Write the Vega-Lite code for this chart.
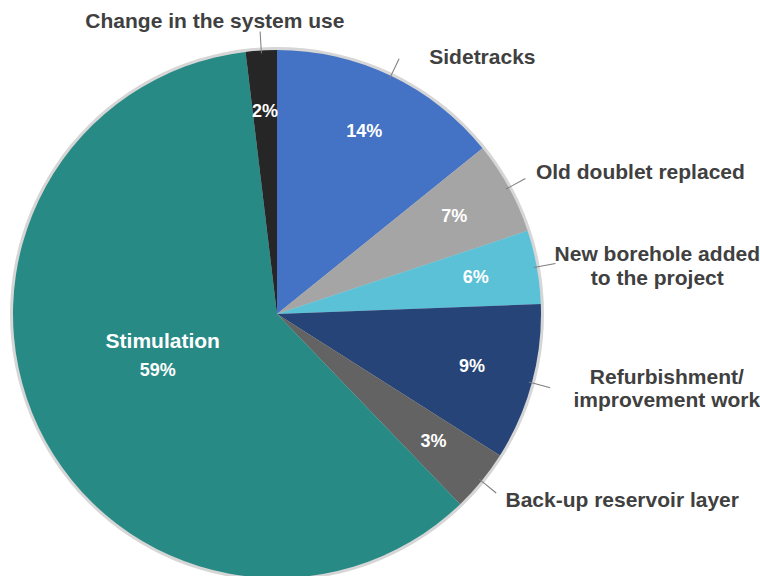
{
  "$schema": "https://vega.github.io/schema/vega-lite/v6.json",
  "width": 554,
  "height": 524,
  "autosize": "none",
  "padding": {"left": 0, "top": 52, "right": 206, "bottom": 0},
  "background": "#ffffff",
  "view": {"stroke": null},
  "config": {"text": {"font": "Liberation Sans", "fontWeight": "bold"}},
  "data": {
    "values": [
      {"order": 1, "name": "Sidetracks", "value": 14.2, "pct": "14%", "label": "Sidetracks"},
      {"order": 2, "name": "Old doublet replaced", "value": 5.7, "pct": "7%", "label": "Old doublet replaced"},
      {"order": 3, "name": "New borehole added to the project", "value": 4.5, "pct": "6%", "label": ["New borehole added", "to the project"]},
      {"order": 4, "name": "Refurbishment/ improvement work", "value": 9.6, "pct": "9%", "label": ["Refurbishment/", "improvement work"]},
      {"order": 5, "name": "Back-up reservoir layer", "value": 3.8, "pct": "3%", "label": "Back-up reservoir layer"},
      {"order": 6, "name": "Stimulation", "value": 60.3, "pct": "59%", "label": "Stimulation"},
      {"order": 7, "name": "Change in the system use", "value": 1.9, "pct": "2%", "label": "Change in the system use"}
    ]
  },
  "transform": [
    {"stack": "value", "groupby": [], "sort": [{"field": "order"}], "as": ["t0", "t1"]},
    {"calculate": "(datum.t0 + datum.t1) / 2", "as": "mid"},
    {"calculate": "datum.mid - 0.03", "as": "l0"},
    {"calculate": "datum.mid + 0.03", "as": "l1"}
  ],
  "layer": [
    {
      "data": {"values": [{}]},
      "mark": {"type": "arc", "outerRadius": 267, "fill": "#d6d6d6"},
      "encoding": {}
    },
    {
      "mark": {"type": "arc", "outerRadius": 264},
      "encoding": {
        "theta": {"field": "t0", "type": "quantitative", "scale": {"domain": [0, 100]}, "stack": null},
        "theta2": {"field": "t1"},
        "color": {
          "field": "name",
          "type": "nominal",
          "legend": null,
          "scale": {
            "domain": ["Sidetracks", "Old doublet replaced", "New borehole added to the project", "Refurbishment/ improvement work", "Back-up reservoir layer", "Stimulation", "Change in the system use"],
            "range": ["#4472C4", "#A5A5A5", "#5BC1D7", "#264478", "#636363", "#288A85", "#262626"]
          }
        }
      }
    },
    {
      "transform": [{"filter": "datum.name !== 'Stimulation'"}],
      "mark": {"type": "arc", "innerRadius": 261, "outerRadius": 283, "fill": "#7f7f7f"},
      "encoding": {
        "theta": {"field": "l0", "type": "quantitative", "scale": {"domain": [0, 100]}, "stack": null},
        "theta2": {"field": "l1"}
      }
    },
    {
      "transform": [{"filter": "datum.name !== 'Stimulation'"}],
      "mark": {"type": "text", "radius": 202, "fontSize": 18, "fill": "#ffffff", "align": "center", "baseline": "middle"},
      "encoding": {
        "theta": {"field": "mid", "type": "quantitative", "scale": {"domain": [0, 100]}, "stack": null},
        "text": {"field": "pct", "type": "nominal"}
      }
    },
    {
      "transform": [{"filter": "datum.name === 'Stimulation'"}],
      "mark": {"type": "text", "radius": 132, "fontSize": 18, "fill": "#ffffff", "align": "center", "baseline": "middle"},
      "encoding": {
        "theta": {"field": "mid", "type": "quantitative", "scale": {"domain": [0, 100]}, "stack": null},
        "text": {"field": "pct", "type": "nominal"}
      }
    },
    {
      "transform": [{"filter": "datum.name === 'Stimulation'"}],
      "mark": {"type": "text", "radius": 132, "dy": -29, "dx": 5, "fontSize": 21, "fill": "#ffffff", "align": "center", "baseline": "middle"},
      "encoding": {
        "theta": {"field": "mid", "type": "quantitative", "scale": {"domain": [0, 100]}, "stack": null},
        "text": {"field": "label", "type": "nominal"}
      }
    },
    {
      "transform": [{"filter": "datum.order === 1"}],
      "mark": {"type": "text", "radius": 295, "dx": 25, "dy": 10, "fontSize": 21, "fill": "#404040", "align": "left", "baseline": "middle"},
      "encoding": {
        "theta": {"field": "mid", "type": "quantitative", "scale": {"domain": [0, 100]}, "stack": null},
        "text": {"field": "label", "type": "nominal"}
      }
    },
    {
      "transform": [{"filter": "datum.order === 2 || datum.order === 5"}],
      "mark": {"type": "text", "radius": 295, "fontSize": 21, "fill": "#404040", "align": "left", "baseline": "middle"},
      "encoding": {
        "theta": {"field": "mid", "type": "quantitative", "scale": {"domain": [0, 100]}, "stack": null},
        "text": {"field": "label", "type": "nominal"}
      }
    },
    {
      "transform": [{"filter": "datum.order === 3"}],
      "mark": {"type": "text", "radius": 295, "dx": 90, "dy": -6, "fontSize": 21, "lineHeight": 24, "fill": "#404040", "align": "center", "baseline": "middle"},
      "encoding": {
        "theta": {"field": "mid", "type": "quantitative", "scale": {"domain": [0, 100]}, "stack": null},
        "text": {"field": "label", "type": "nominal"}
      }
    },
    {
      "transform": [{"filter": "datum.order === 4"}],
      "mark": {"type": "text", "radius": 295, "dx": 105, "dy": -13, "fontSize": 21, "lineHeight": 23, "fill": "#404040", "align": "center", "baseline": "middle"},
      "encoding": {
        "theta": {"field": "mid", "type": "quantitative", "scale": {"domain": [0, 100]}, "stack": null},
        "text": {"field": "label", "type": "nominal"}
      }
    },
    {
      "transform": [{"filter": "datum.order === 7"}],
      "mark": {"type": "text", "radius": 287, "dx": -45, "fontSize": 21, "fill": "#404040", "align": "center", "baseline": "alphabetic"},
      "encoding": {
        "theta": {"field": "mid", "type": "quantitative", "scale": {"domain": [0, 100]}, "stack": null},
        "text": {"field": "label", "type": "nominal"}
      }
    }
  ]
}
